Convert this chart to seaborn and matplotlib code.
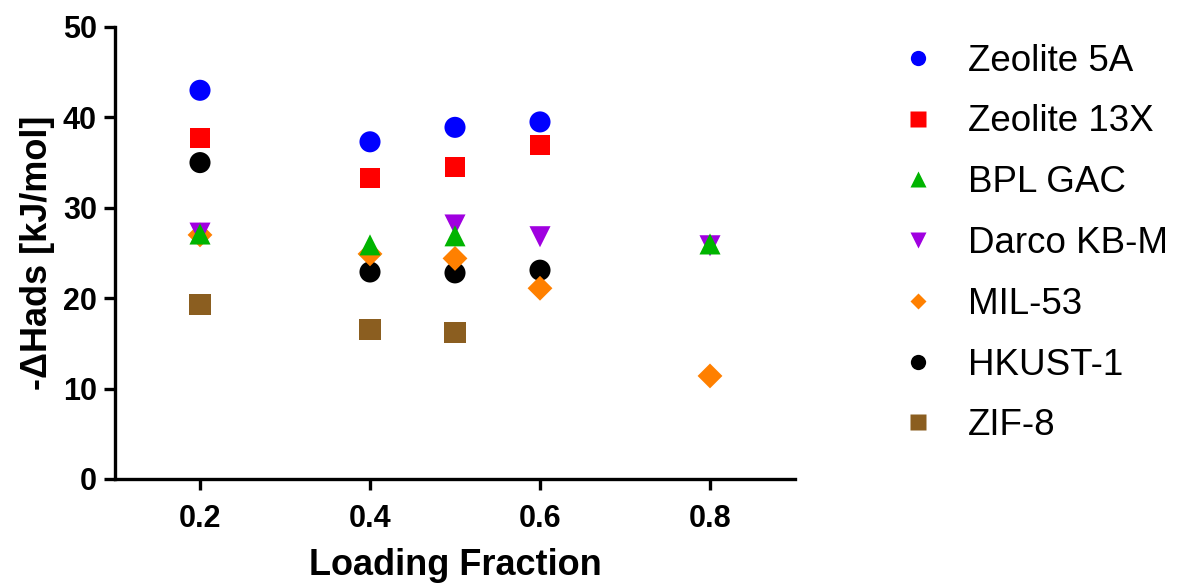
import matplotlib
matplotlib.use("Agg")
import matplotlib.pyplot as plt
import seaborn as sns
import pandas as pd
from matplotlib.lines import Line2D

sns.set_theme(style="ticks")
plt.rcParams['font.family'] = ['Liberation Sans', 'DejaVu Sans']
plt.rcParams['text.color'] = 'black'
plt.rcParams['axes.labelcolor'] = 'black'
plt.rcParams['xtick.color'] = 'black'
plt.rcParams['ytick.color'] = 'black'

series = ["Zeolite 5A", "Zeolite 13X", "BPL GAC", "Darco KB-M", "MIL-53", "HKUST-1", "ZIF-8"]
x_5a = [0.2, 0.4, 0.5, 0.6]
y_5a = [43.0, 37.3, 38.9, 39.5]
x_13x = [0.2, 0.4, 0.5, 0.6]
y_13x = [37.7, 33.3, 34.5, 36.9]
x_bpl = [0.2, 0.4, 0.5, 0.8]
y_bpl = [27.1, 25.9, 26.9, 26.0]
x_darco = [0.2, 0.5, 0.6, 0.8]
y_darco = [27.2, 28.1, 26.8, 25.8]
x_mil = [0.2, 0.4, 0.5, 0.6, 0.8]
y_mil = [27.0, 24.9, 24.4, 21.1, 11.4]
x_hkust = [0.2, 0.4, 0.5, 0.6]
y_hkust = [35.0, 22.9, 22.8, 23.1]
x_zif = [0.2, 0.4, 0.5]
y_zif = [19.3, 16.5, 16.2]

xs = [x_5a, x_13x, x_bpl, x_darco, x_mil, x_hkust, x_zif]
ys = [y_5a, y_13x, y_bpl, y_darco, y_mil, y_hkust, y_zif]
colors = ["#0000FF", "#FF0000", "#00B400", "#A000E0", "#FF8000", "#000000", "#8B5E20"]
markers = ["o", "s", "^", "v", "D", "o", "s"]
sizes = [230, 210, 230, 230, 160, 230, 230]

x_ticks = [0.2, 0.4, 0.6, 0.8]
y_ticks = [0, 10, 20, 30, 40, 50]

fig = plt.figure(figsize=(11.77, 5.87), dpi=100)
ax = fig.add_axes([115/1177, 1 - 479/587, (795 - 115)/1177, (479 - 27)/587])

for i in reversed(range(len(series))):
    df = pd.DataFrame({"x": xs[i], "y": ys[i]})
    sns.scatterplot(data=df, x="x", y="y", ax=ax, color=colors[i], marker=markers[i],
                    s=sizes[i], edgecolor="none", linewidth=0, legend=False, zorder=3)

ax.set_xlim(0.1, 0.9)
ax.set_ylim(0, 50)
ax.set_xticks(x_ticks)
ax.set_xticklabels([f"{t:.1f}" for t in x_ticks])
ax.set_yticks(y_ticks)
ax.set_yticklabels([str(t) for t in y_ticks])
for s in ["top", "right"]:
    ax.spines[s].set_visible(False)
for s in ["left", "bottom"]:
    ax.spines[s].set_linewidth(2.4)
    ax.spines[s].set_color("black")
ax.tick_params(axis="both", width=2.4, length=8, color="black", labelcolor="black",
               labelsize=22)
ax.tick_params(axis="x", pad=10)
ax.tick_params(axis="y", pad=5)
for lab in ax.get_xticklabels() + ax.get_yticklabels():
    lab.set_fontweight("bold")
ax.set_xlabel("Loading Fraction", fontsize=26, fontweight="bold", labelpad=10, color="black")
ax.set_ylabel("-ΔHads [kJ/mol]", fontsize=26, fontweight="bold", labelpad=6, color="black")

handles = [Line2D([0], [0], marker=markers[i], color="none", markerfacecolor=colors[i],
                  markeredgecolor="none", markersize=(11 if markers[i] != "D" else 8.5))
           for i in range(len(series))]
fig.legend(handles, series, loc="upper left", bbox_to_anchor=(892/1177, 1 - 29/587),
           frameon=False, fontsize=26.5, handlelength=0.6, handletextpad=1.06,
           labelspacing=0.7, borderaxespad=0, labelcolor="black")

fig.savefig("out.png", dpi=100)
